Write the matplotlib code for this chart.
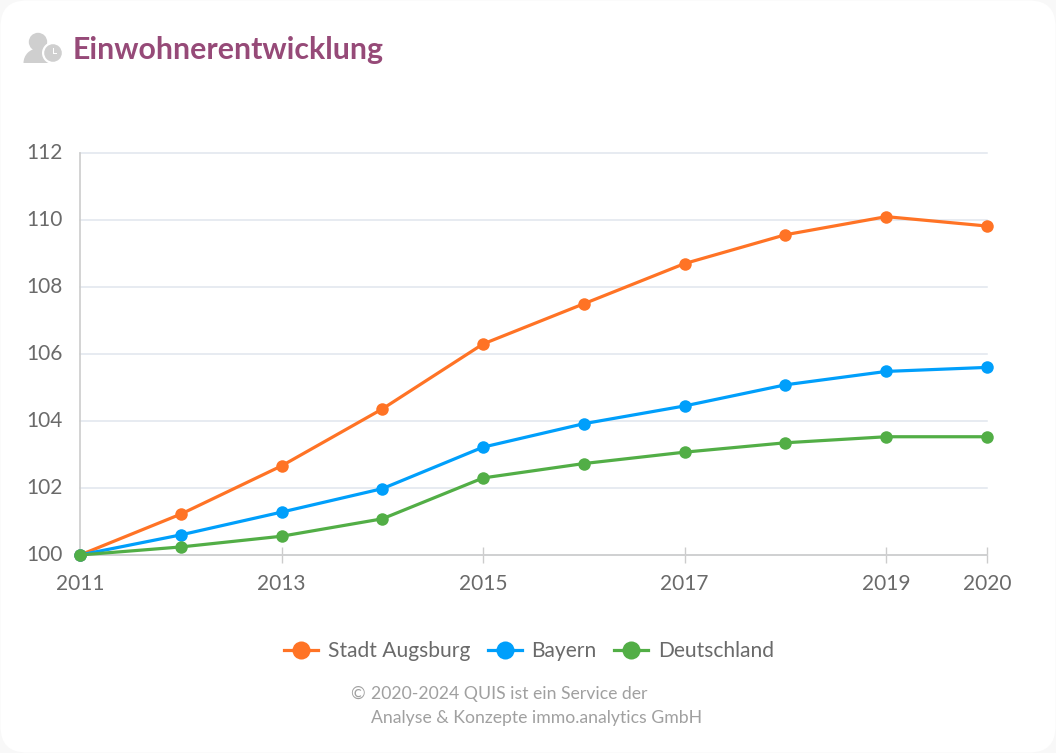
import matplotlib
matplotlib.use('Agg')
import matplotlib.pyplot as plt
from matplotlib.lines import Line2D
from matplotlib.patches import Circle, FancyBboxPatch, Wedge, Rectangle
from matplotlib.transforms import ScaledTranslation

plt.rcParams['font.family'] = ['Lato', 'Noto Sans', 'DejaVu Sans']

years = [2011, 2012, 2013, 2014, 2015, 2016, 2017, 2018, 2019, 2020]
augsburg = [100, 101.22, 102.66, 104.36, 106.3, 107.5, 108.7, 109.56, 110.1, 109.82]
bayern = [100, 100.6, 101.28, 101.98, 103.22, 103.92, 104.45, 105.08, 105.48, 105.6]
deutschland = [100, 100.24, 100.56, 101.08, 102.3, 102.73, 103.07, 103.35, 103.53, 103.53]
names = ['Stadt Augsburg', 'Bayern', 'Deutschland']
colors = ['#ff7325', '#009ffb', '#52ae46']
year_ticks = [2011, 2013, 2015, 2017, 2019, 2020]
value_ticks = [100, 102, 104, 106, 108, 110, 112]

W, H = 1056, 753
TEXT = '#6a6a6a'
FOOT = '#a0a0a0'
AXIS = '#cccccc'
GRID = '#e0e6ee'

fig = plt.figure(figsize=(W / 100, H / 100), dpi=100, facecolor='#f8f8f8')

# background card and header, in pixel coordinates
bg = fig.add_axes([0, 0, 1, 1], zorder=0)
bg.set_xlim(0, W)
bg.set_ylim(H, 0)
bg.axis('off')
bg.add_patch(FancyBboxPatch((0, 0), W, H, boxstyle='round,pad=-0.5,rounding_size=26',
                            fc='white', ec='none'))

# person + clock icon
ICON = '#cfcfcf'
bg.add_patch(Circle((38, 42), 9.2, fc=ICON, ec='none'))
bg.add_patch(Wedge((38, 63), 14.5, 180, 360, fc=ICON, ec='none'))
bg.add_patch(Circle((53, 53), 11, fc='white', ec='none'))
bg.add_patch(Circle((53, 53), 8.8, fc=ICON, ec='none'))
bg.add_patch(Rectangle((52.5, 48), 1.3, 5.5, fc='white', ec='none'))
bg.add_patch(Rectangle((52.5, 53), 4.5, 1.3, fc='white', ec='none'))

bg.text(72.5, 50, 'Einwohnerentwicklung', color='#964a78', fontsize=21.8, fontweight='bold',
        ha='left', va='center')

bg.text(350, 694, '©', color=FOOT, fontsize=12.7, ha='left', va='center')
bg.text(371, 694, '2020-2024 QUIS ist ein Service der', color=FOOT, fontsize=12.7,
        ha='left', va='center')
bg.text(371, 718, 'Analyse & Konzepte immo.analytics GmbH', color=FOOT, fontsize=12.7,
        ha='left', va='center')

# plot area
left, right, top, bottom = 80, 987, 153, 555
ax = fig.add_axes([left / W, 1 - bottom / H, (right - left) / W, (bottom - top) / H],
                  zorder=1, facecolor='none')
ax.set_xlim(2011, 2020)
ax.set_ylim(100, 112)

for vals, name, col in zip([augsburg, bayern, deutschland], names, colors):
    ax.plot(years, vals, '-o', color=col, linewidth=2.3, markersize=9, markeredgewidth=0,
            label=name, clip_on=False, zorder=3)

ax.set_xticks(year_ticks)
ax.set_yticks(value_ticks)
ax.grid(axis='y', color=GRID, linewidth=1.1, clip_on=False)
ax.set_axisbelow(True)
for side in ['top', 'right']:
    ax.spines[side].set_visible(False)
for side in ['left', 'bottom']:
    ax.spines[side].set_color(AXIS)
    ax.spines[side].set_linewidth(1.2)
ax.tick_params(axis='x', direction='inout', length=11, width=1, color=AXIS,
               labelcolor=TEXT, labelsize=15, pad=8)
ax.tick_params(axis='y', length=0, labelcolor=TEXT, labelsize=15, pad=12.5)
ax.xaxis.get_major_ticks()[0].tick1line.set_visible(False)

# value labels sit a little above their grid lines
nudge = ScaledTranslation(0, 1.5 / 100, fig.dpi_scale_trans)
for lab in ax.get_yticklabels():
    lab.set_transform(lab.get_transform() + nudge)

handles = [Line2D([], [], color=c, marker='o', linewidth=2.3, markersize=13, markeredgewidth=0)
           for c in colors]
fig.legend(handles, names, loc='center', bbox_to_anchor=(529 / W, 1 - 651 / H), ncol=3, frameon=False,
           fontsize=15.1, labelcolor=TEXT, handlelength=1.62, handletextpad=0.48, columnspacing=0.8)

fig.savefig('out.png', dpi=100, facecolor=fig.get_facecolor())
